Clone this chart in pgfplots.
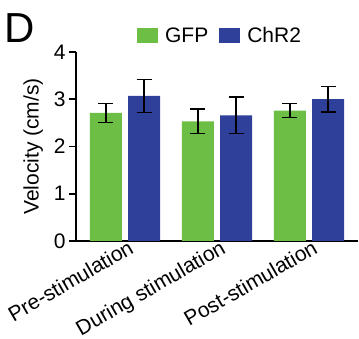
\documentclass[border=0pt]{standalone}
\usepackage{fontspec}
\setmainfont{Liberation Sans}
\usepackage{pgfplots}
\pgfplotsset{compat=1.18}
\definecolor{gfp}{RGB}{108,190,69}
\definecolor{chr}{RGB}{46,64,154}
\begin{document}
\begin{tikzpicture}
\begin{axis}[
  name=ax,
  scale only axis, width=282pt, height=189pt,
  xmin=-0.533, xmax=2.533, ymin=0, ymax=4,
  axis x line=bottom, axis y line=left,
  axis line style={-, line width=1.6pt, black},
  ytick={0,1,2,3,4}, xtick={0,1,2},
  xticklabels={Pre-stimulation, During stimulation, Post-stimulation},
  xticklabel style={xshift=3pt, yshift=12pt, rotate=30, anchor=north east, inner sep=2pt},
  major x tick style={draw=none},
  tick align=outside, major tick length=7pt,
  major y tick style={line width=1.6pt, black},
  tick label style={font=\fontsize{21}{25}\selectfont},
  label style={font=\fontsize{21}{25}\selectfont},
  ylabel={Velocity (cm/s)},
  ylabel shift=4pt,
  /pgf/number format/assume math mode=true,
  legend columns=2,
  legend style={at={(rel axis cs:0.216,1.087)}, anchor=west, draw=none, fill=none,
    inner sep=0pt, font=\fontsize{21}{25}\selectfont,
    nodes={inner sep=0pt},
    /tikz/every odd column/.append style={column sep=7pt},
    /tikz/every even column/.append style={column sep=11pt}},
  legend image code/.code={\fill[#1] (0pt,-7.5pt) rectangle (21pt,7.5pt);},
]
\addplot[ybar, bar width=32pt, bar shift=0pt, fill=gfp, draw=none,
  error bars/.cd, y dir=both, y explicit,
  error bar style={line width=1.5pt, black},
  error mark options={rotate=90, mark size=7.5pt, line width=1.5pt, black}]
  coordinates {(-0.209,2.71) +- (0,0.20) (0.791,2.53) +- (0,0.26) (1.791,2.76) +- (0,0.15)};
\addlegendentry{GFP}
\addplot[ybar, bar width=32pt, bar shift=0pt, fill=chr, draw=none,
  error bars/.cd, y dir=both, y explicit,
  error bar style={line width=1.5pt, black},
  error mark options={rotate=90, mark size=7.5pt, line width=1.5pt, black}]
  coordinates {(0.209,3.07) +- (0,0.35) (1.209,2.66) +- (0,0.39) (2.209,3.00) +- (0,0.27)};
\addlegendentry{ChR2}
\end{axis}
\node[font=\fontsize{42}{42}\selectfont, inner sep=0pt, anchor=base west]
  at ([xshift=-72pt,yshift=9pt]ax.north west) {D};
\pgfresetboundingbox
\useasboundingbox ([xshift=-76pt,yshift=52pt]ax.north west) rectangle ([xshift=283pt,yshift=-287pt]ax.north west);
\end{tikzpicture}
\end{document}
